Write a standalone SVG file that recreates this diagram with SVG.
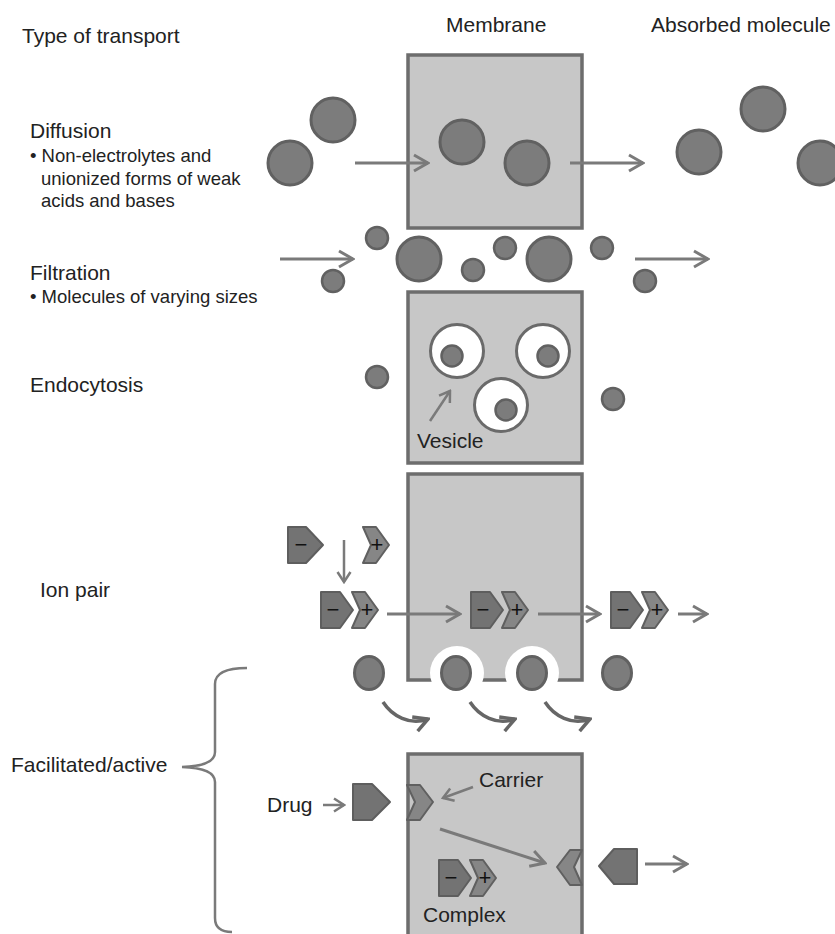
<svg xmlns="http://www.w3.org/2000/svg" xmlns:xlink="http://www.w3.org/1999/xlink" width="835" height="934" viewBox="0 0 835 934">
<style>
  text { font-family: "Liberation Sans", Arial, sans-serif; fill: #222; }
  .h { font-size: 21px; }
  .s { font-size: 18.5px; }
  .sign { font-size: 22px; fill: #111; text-anchor: middle; }
  .box { fill: #c7c7c7; stroke: #6d6d6d; stroke-width: 3.5; }
  .mol { fill: #7c7c7c; stroke: #616161; stroke-width: 3; }
  .molS { fill: #7c7c7c; stroke: #616161; stroke-width: 2.5; }
  .ves { fill: #ffffff; stroke: #6a6a6a; stroke-width: 3; }
  .pent { fill: #737373; stroke: #5e5e5e; stroke-width: 2; stroke-linejoin: round; }
  .chev { fill: #868686; stroke: #606060; stroke-width: 2; stroke-linejoin: round; }
  .arr { fill: none; stroke: #7a7a7a; stroke-width: 3; marker-end: url(#ah); }
  .arrS { fill: none; stroke: #7a7a7a; stroke-width: 2.5; marker-end: url(#ahs); }
  .arrC { fill: none; stroke: #666666; stroke-width: 3.5; marker-end: url(#ahc); }
  .brace { fill: none; stroke: #7a7a7a; stroke-width: 2.5; }
</style>
<defs>
  <marker id="ah" viewBox="-17 -10 19 20" refX="0" refY="0" markerWidth="19" markerHeight="20" markerUnits="userSpaceOnUse" orient="auto">
    <path d="M-14,-8 L0,0 L-14,8" fill="none" stroke="#7a7a7a" stroke-width="3"/>
  </marker>
  <marker id="ahs" viewBox="-13 -8 15 16" refX="0" refY="0" markerWidth="15" markerHeight="16" markerUnits="userSpaceOnUse" orient="auto">
    <path d="M-10,-6.5 L0,0 L-10,6.5" fill="none" stroke="#7a7a7a" stroke-width="2.5"/>
  </marker>
  <marker id="ahc" viewBox="-17 -10 19 20" refX="0" refY="0" markerWidth="19" markerHeight="20" markerUnits="userSpaceOnUse" orient="auto">
    <path d="M-14,-7.5 L0,0 L-14,7.5" fill="none" stroke="#666666" stroke-width="3.5"/>
  </marker>
  <g id="pair">
    <path class="pent" d="M0,-18 H19 L32,0 L19,18 H0 Z"/>
    <path class="chev" d="M31,-18 H44 L57,0 L44,18 H31 L39,0 Z"/>
    <text class="sign" x="12" y="7">−</text>
    <text class="sign" x="46" y="7">+</text>
  </g>
</defs>
<rect width="835" height="934" fill="#ffffff"/>

<g id="headers">
  <text class="h" x="22" y="43">Type of transport</text>
  <text class="h" x="446" y="32">Membrane</text>
  <text class="h" x="651" y="32">Absorbed molecule</text>
</g>

<g id="labels">
  <text class="h" x="30" y="138">Diffusion</text>
  <text class="s" x="30" y="162">• Non-electrolytes and</text>
  <text class="s" x="41" y="185">unionized forms of weak</text>
  <text class="s" x="41" y="207">acids and bases</text>
  <text class="h" x="30" y="280">Filtration</text>
  <text class="s" x="30" y="303">• Molecules of varying sizes</text>
  <text class="h" x="30" y="392">Endocytosis</text>
  <text class="h" x="40" y="597">Ion pair</text>
  <text class="h" x="11" y="772">Facilitated/active</text>
  <path class="brace" d="M247,668 Q215,668 215,684 L215,752 Q215,766 182,767 Q215,768 215,782 L215,918 Q215,932 232,932"/>
</g>

<g id="diffusion">
  <rect class="box" x="408" y="55" width="174" height="173"/>
  <circle class="mol" cx="290" cy="163" r="22"/>
  <circle class="mol" cx="333" cy="120" r="22"/>
  <circle class="mol" cx="462" cy="142" r="22"/>
  <circle class="mol" cx="527" cy="163" r="22"/>
  <circle class="mol" cx="699" cy="152" r="22"/>
  <circle class="mol" cx="763" cy="109" r="22"/>
  <circle class="mol" cx="820" cy="163" r="22"/>
</g>

<g id="filtration">
  <circle class="molS" cx="377" cy="238" r="11"/>
  <circle class="molS" cx="333" cy="281" r="11"/>
  <circle class="mol" cx="419" cy="259" r="22"/>
  <circle class="molS" cx="473" cy="270" r="11"/>
  <circle class="molS" cx="505" cy="248" r="11"/>
  <circle class="mol" cx="549" cy="259" r="22"/>
  <circle class="molS" cx="602" cy="248" r="11"/>
  <circle class="molS" cx="645" cy="281" r="11"/>
</g>

<g id="endocytosis">
  <rect class="box" x="408" y="292" width="174" height="171"/>
  <circle class="ves" cx="457" cy="351" r="26.5"/>
  <circle class="molS" cx="452" cy="356" r="10.5"/>
  <circle class="ves" cx="543" cy="351" r="26.5"/>
  <circle class="molS" cx="548" cy="356" r="10.5"/>
  <circle class="ves" cx="501" cy="405" r="26.5"/>
  <circle class="molS" cx="506" cy="410" r="10.5"/>
  <circle class="molS" cx="377" cy="377" r="11"/>
  <circle class="molS" cx="613" cy="399" r="11"/>
  <text class="h" x="417" y="448">Vesicle</text>
</g>

<g id="ion-pair">
  <rect class="box" x="408" y="474" width="174" height="206"/>
  <path class="pent" d="M288,527 H306 L323,545 L306,563 H288 Z"/>
  <text class="sign" x="301" y="552">−</text>
  <path class="chev" d="M363,527 H376 L389,545 L376,563 H363 L371,545 Z"/>
  <text class="sign" x="377" y="552">+</text>
  <use xlink:href="#pair" href="#pair" x="321" y="610"/>
  <use xlink:href="#pair" href="#pair" x="471" y="610"/>
  <use xlink:href="#pair" href="#pair" x="611" y="610"/>
</g>

<g id="facilitated">
  <circle cx="457" cy="673" r="27" fill="#ffffff"/>
  <circle cx="532" cy="673" r="27" fill="#ffffff"/>
  <ellipse class="mol" cx="369" cy="673" rx="14.5" ry="16.5"/>
  <ellipse class="mol" cx="456" cy="673" rx="14.5" ry="16.5"/>
  <ellipse class="mol" cx="532" cy="673" rx="14.5" ry="16.5"/>
  <ellipse class="mol" cx="617" cy="673" rx="14.5" ry="16.5"/>
  <rect class="box" x="408" y="754" width="174" height="190"/>
  <text class="h" x="267" y="812">Drug</text>
  <path class="pent" d="M353,784 H372 L390,802 L372,820 H353 Z"/>
  <path class="chev" d="M407,785 H420 L433,802 L420,820 H407 L415,802 Z"/>
  <text class="h" x="479" y="787">Carrier</text>
  <path class="chev" d="M582,850 H570 L557,867 L570,885 H582 L574,867 Z"/>
  <path class="pent" d="M599,866 L614,849 H637 V884 H614 Z"/>
  <use xlink:href="#pair" href="#pair" x="439" y="878"/>
  <text class="h" x="423" y="922">Complex</text>
</g>

<g id="connectors">
  <line class="arr" x1="355" y1="163" x2="428" y2="163"/>
  <line class="arr" x1="570" y1="163" x2="643" y2="163"/>
  <line class="arr" x1="280" y1="259" x2="353" y2="259"/>
  <line class="arr" x1="635" y1="259" x2="708" y2="259"/>
  <line class="arrS" x1="430" y1="421" x2="450" y2="391"/>
  <line class="arrS" x1="344" y1="540" x2="344" y2="582"/>
  <line class="arr" x1="387" y1="614" x2="460" y2="614"/>
  <line class="arr" x1="538" y1="614" x2="600" y2="614"/>
  <line class="arr" x1="678" y1="614" x2="707" y2="614"/>
  <path class="arrC" d="M383,702 C392,716 410,726 428,719"/>
  <path class="arrC" d="M470,702 C479,716 497,726 515,719"/>
  <path class="arrC" d="M545,702 C554,716 572,726 590,719"/>
  <line class="arrS" x1="323" y1="805" x2="344" y2="805"/>
  <line class="arrS" x1="473" y1="787" x2="443" y2="798"/>
  <line class="arr" x1="440" y1="829" x2="545" y2="863"/>
  <line class="arr" x1="645" y1="864" x2="687" y2="864"/>
</g>
</svg>
